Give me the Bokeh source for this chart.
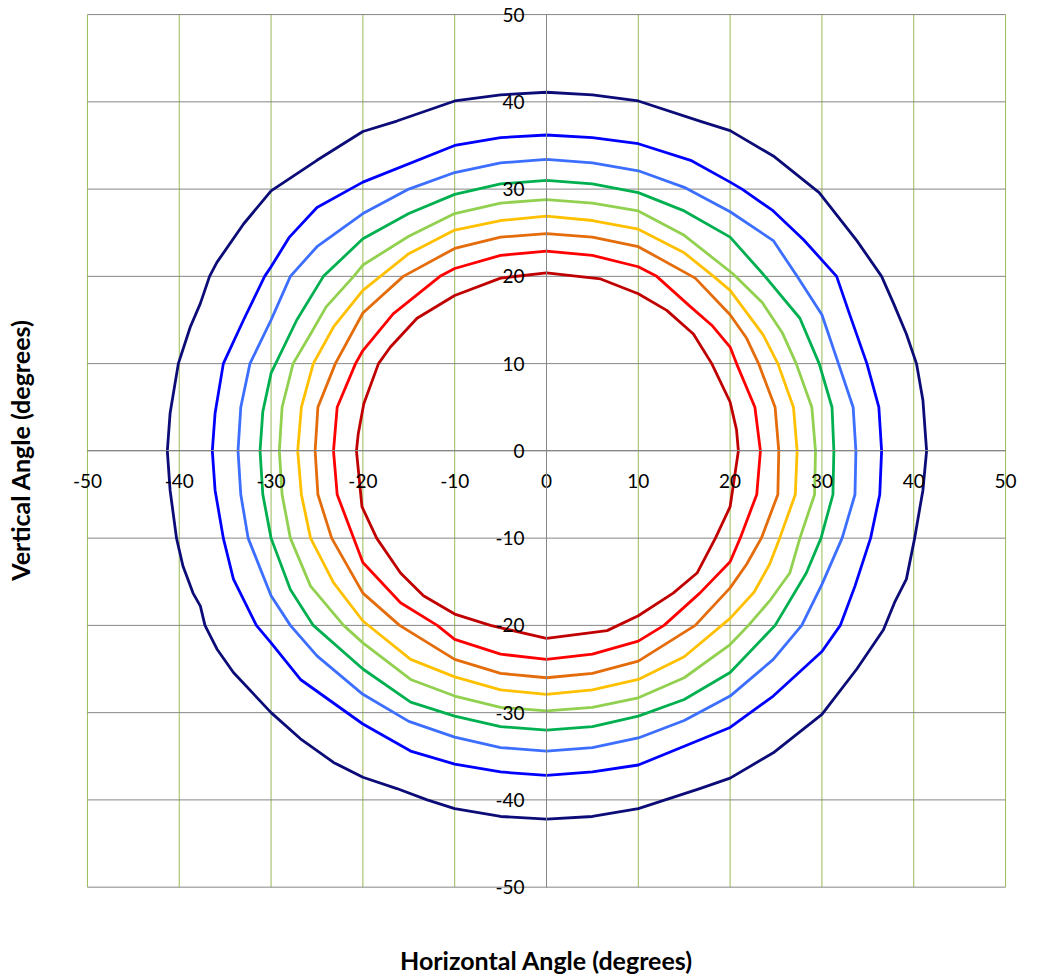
from bokeh.plotting import figure
from bokeh.models import LinearAxis, FixedTicker, Range1d
from bokeh.embed import file_html
from bokeh.resources import INLINE

# Iso-contours (horizontal angle, vertical angle) in degrees
darkred_x = [20.9, 20.7, 20.0, 18.0, 16.0, 13.1, 10, 5.9, 0,
             -5, -10, -14.1, -17.0, -18.3, -19.9, -20.5, -20.7,
             -20.1, -18.5, -15.9, -13.4, -10, -6.1, 0,
             6.6, 10, 13.8, 16.4, 18.4, 20.0, 20.9]
darkred_y = [0, 2.4, 5.6, 10, 13.4, 16.1, 18.0, 19.7, 20.4,
             19.8, 17.8, 15.2, 11.9, 10, 5.4, 2.0, 0,
             -6.4, -10, -14.0, -16.6, -18.7, -20, -21.5,
             -20.6, -18.9, -16.3, -14.0, -10, -6.4, 0]

red_x = [23.3, 22.7, 20.7, 20, 18.0, 15.7, 12.0, 10, 5, 0,
         -5, -10, -11.6, -16.7, -20, -20.8, -22.8, -23.2,
         -22.8, -21.0, -20, -15.9, -11.9, -10, -5, 0,
         5, 10, 12.8, 16.7, 20, 21.1, 22.9, 23.3]
red_y = [0, 5, 10, 11.9, 14.4, 16.5, 20, 21.1, 22.4, 22.9,
         22.4, 20.9, 20, 15.7, 11.5, 10, 5, 0,
         -5, -10, -12.8, -17.4, -20, -21.6, -23.3, -23.9,
         -23.3, -21.8, -20, -16.3, -12.7, -10, -5, 0]

orange_x = [25.3, 24.9, 23.1, 21.8, 20, 16.2, 10, 5, 0,
            -5, -10, -15.6, -20, -23.0, -24.9, -25.2,
            -24.9, -23.4, -20, -16.0, -10, -5, 0,
            5, 10, 16.2, 20, 21.8, 23.4, 25.2, 25.3]
orange_y = [0, 5, 10, 12.9, 15.6, 19.8, 23.4, 24.5, 24.9,
            24.5, 23.2, 20, 15.8, 10, 5, 0,
            -5, -10, -16.3, -20, -23.9, -25.5, -26.0,
            -25.5, -24.1, -20, -15.7, -13.0, -10, -5, 0]

yellow_x = [27.3, 26.9, 25.2, 23.6, 20, 18.2, 15, 10, 5, 0,
            -5, -10, -15, -20, -23.2, -25.4, -26.7, -27.1,
            -26.7, -25.7, -23.2, -20, -14.8, -10, -5, 0,
            5, 10, 15, 20, 22.6, 24.3, 25.4, 27.1, 27.3]
yellow_y = [0, 5, 10, 13.3, 18.4, 20, 22.7, 25.4, 26.4, 26.9,
            26.4, 25.3, 22.6, 18.4, 14.2, 10, 5, 0,
            -5, -10, -15.1, -19.5, -23.9, -25.9, -27.4, -27.9,
            -27.4, -26.2, -23.6, -19.2, -16.2, -13.0, -10, -5, 0]

lgreen_x = [29.3, 28.9, 27.2, 25.7, 23.5, 20.3, 15, 10, 5, 0,
            -5, -10, -15, -20, -21.0, -24.0, -25.7, -27.6, -28.8, -29.1,
            -28.8, -27.9, -25.7, -22.1, -20, -14.8, -10, -5, 0,
            5, 10, 15, 20, 22.0, 24.3, 26.5, 27.6, 29.2, 29.3]
lgreen_y = [0, 5, 10, 13.5, 17.0, 20.3, 24.7, 27.5, 28.4, 28.8,
            28.4, 27.2, 24.6, 21.3, 20, 16.5, 13.4, 10, 5, 0,
            -5, -10, -15.5, -20, -22.0, -26.2, -28.1, -29.4, -29.8,
            -29.4, -28.3, -26.0, -22.2, -20, -17.2, -14.0, -10, -5, 0]

green_x = [31.3, 31.1, 29.7, 27.6, 23.8, 20, 15, 10, 5, 0,
           -5, -10, -15, -20, -24.3, -27.2, -30, -30.9, -31.2,
           -30.9, -30, -27.9, -25.4, -20, -14.8, -10, -5, 0,
           5, 10, 15, 20, 24.9, 28.3, 29.9, 31.2, 31.3]
green_y = [0, 5, 10, 15.2, 20, 24.5, 27.5, 29.6, 30.6, 31.0,
           30.6, 29.4, 27.2, 24.3, 20, 15.0, 8.9, 4.5, 0,
           -5, -10, -15.9, -20, -25.0, -28.8, -30.4, -31.6, -32.0,
           -31.6, -30.4, -28.5, -25.4, -20, -14.0, -10, -5, 0]

lblue_x = [33.7, 33.4, 31.8, 30, 27.3, 24.7, 20, 15, 10, 5, 0,
           -5, -10, -15, -20, -25.0, -27.9, -30, -32.3, -33.3, -33.6,
           -33.3, -32.5, -30, -27.9, -25.0, -20, -15, -10, -5, 0,
           5, 10, 15, 20, 24.7, 27.8, 30, 32.2, 33.6, 33.7]
lblue_y = [0, 5, 10, 15.6, 20, 24.1, 27.4, 30.2, 32.1, 33.0, 33.4,
           33.0, 31.9, 30.0, 27.2, 23.4, 20, 15.0, 10, 5, 0,
           -5, -10, -16.6, -20, -23.5, -27.9, -31.0, -32.8, -34.0, -34.4,
           -34.0, -32.9, -30.9, -28.1, -23.9, -20, -15.3, -10, -5, 0]

blue_x = [36.5, 36.2, 34.9, 33.0, 31.6, 28.0, 24.7, 21.3, 20, 15.7, 10, 5, 0,
          -5, -10, -20, -25.0, -28.0, -30, -30.7, -33.0, -35.2, -36.1, -36.4,
          -36.1, -35.2, -34.1, -31.6, -30, -26.8, -20, -14.8, -10, -5, 0,
          5, 10, 20, 24.7, 30, 32.0, 33.6, 35.3, 36.3, 36.5]
blue_y = [0, 5, 10, 15.7, 20, 24.2, 27.5, 30, 30.8, 33.3, 35.2, 35.9, 36.2,
          35.9, 35.0, 30.8, 27.9, 24.5, 21.1, 20, 15.0, 10, 4.3, 0,
          -4.5, -10, -14.7, -20, -22.0, -26.2, -31.3, -34.4, -35.9, -36.8, -37.2,
          -36.8, -36.0, -31.7, -28.1, -23.0, -20, -15.5, -10, -5, 0]

navy_x = [41.4, 41.0, 40.3, 39.2, 37.8, 36.5, 33.8, 29.7, 24.7, 20, 16.7, 10, 5, 0,
          -5, -10, -16.3, -20, -25.0, -30, -33.0, -35.9, -36.7, -37.7, -38.8, -40.1, -41.0, -41.3,
          -41.0, -40.3, -39.6, -38.5, -37.7, -37.2, -35.9, -34.1, -30, -26.8, -23.2, -20,
          -16.3, -13.0, -10, -5.0, 0,
          5, 10, 16.7, 20, 24.7, 30, 33.8, 36.7, 37.9, 39.2, 40.1, 41.0, 41.4]
navy_y = [0, 5.8, 10, 13.4, 16.9, 20, 24.1, 29.6, 33.8, 36.7, 37.8, 40.1, 40.8, 41.1,
          40.8, 40.1, 37.8, 36.6, 33.3, 29.8, 26.0, 21.6, 20, 16.9, 14.2, 10, 4.3, 0,
          -4.5, -10, -13.2, -16.3, -17.8, -20, -22.7, -25.4, -30.0, -33.0, -35.7, -37.4,
          -38.7, -40.0, -41.0, -41.9, -42.2,
          -41.9, -41.0, -38.7, -37.5, -34.6, -30.2, -25.0, -20.5, -17.4, -14.7, -10, -4.5, 0]

ticks = [-50, -40, -30, -20, -10, 0, 10, 20, 30, 40, 50]
tick_text = ["-50", "-40", "-30", "-20", "-10", "0", "10", "20", "30", "40", "50"]
axis_min, axis_max = -50, 50

series = [
    (navy_x, navy_y, "#0C0C78"),
    (blue_x, blue_y, "#0000FF"),
    (lblue_x, lblue_y, "#3C6EFF"),
    (green_x, green_y, "#00B050"),
    (lgreen_x, lgreen_y, "#92D050"),
    (yellow_x, yellow_y, "#FFC000"),
    (orange_x, orange_y, "#E46C0A"),
    (red_x, red_y, "#FF0000"),
    (darkred_x, darkred_y, "#C00000"),
]

FONT = "Lato"

p = figure(width=1040, height=978, output_backend="svg", toolbar_location=None,
           x_range=Range1d(-52.5, 52.5), y_range=Range1d(-51.3, 51.5),
           min_border_left=64, min_border_right=12, min_border_top=1, min_border_bottom=80,
           x_axis_location=None, y_axis_location=None)
p.outline_line_color = None
p.background_fill_color = "white"
p.grid.visible = False

# gridlines limited to the -50..50 box
n = len(ticks)
p.segment(x0=ticks, y0=[axis_min] * n, x1=ticks, y1=[axis_max] * n,
          line_color="#9BBB59", line_width=1)
p.segment(x0=[axis_min] * n, y0=ticks, x1=[axis_max] * n, y1=ticks,
          line_color="#868686", line_width=1)

for xs, ys, c in series:
    p.line(xs, ys, line_color=c, line_width=2.8, line_join="round")

# axes crossing at the origin
xax = LinearAxis(ticker=FixedTicker(ticks=ticks), fixed_location=0, bounds=(axis_min, axis_max))
yax = LinearAxis(ticker=FixedTicker(ticks=ticks), fixed_location=0, bounds=(axis_min, axis_max))
for ax in (xax, yax):
    ax.axis_line_color = "#868686"
    ax.axis_line_width = 1
    ax.major_tick_line_color = None
    ax.minor_tick_line_color = None
    ax.major_label_text_font = FONT
    ax.major_label_text_font_size = "19px"
    ax.major_label_text_color = "#000000"
    ax.major_label_overrides = {t: s for t, s in zip(ticks, tick_text)}
xax.major_label_standoff = 17
yax.major_label_standoff = 16
p.add_layout(xax, "below")
p.add_layout(yax, "left")

# axis titles
tx = LinearAxis(ticker=FixedTicker(ticks=[]), axis_label="Horizontal Angle (degrees)")
ty = LinearAxis(ticker=FixedTicker(ticks=[]), axis_label="Vertical Angle (degrees)")
for ax in (tx, ty):
    ax.axis_line_color = None
    ax.major_tick_line_color = None
    ax.minor_tick_line_color = None
    ax.major_label_text_font_size = "0px"
    ax.axis_label_text_font = FONT
    ax.axis_label_text_font_style = "bold"
    ax.axis_label_text_font_size = "25px"
    ax.axis_label_text_color = "#000000"
tx.axis_label_standoff = 46
ty.axis_label_standoff = 30
p.add_layout(tx, "below")
p.add_layout(ty, "left")

open("out.html", "w").write(file_html(p, INLINE))
